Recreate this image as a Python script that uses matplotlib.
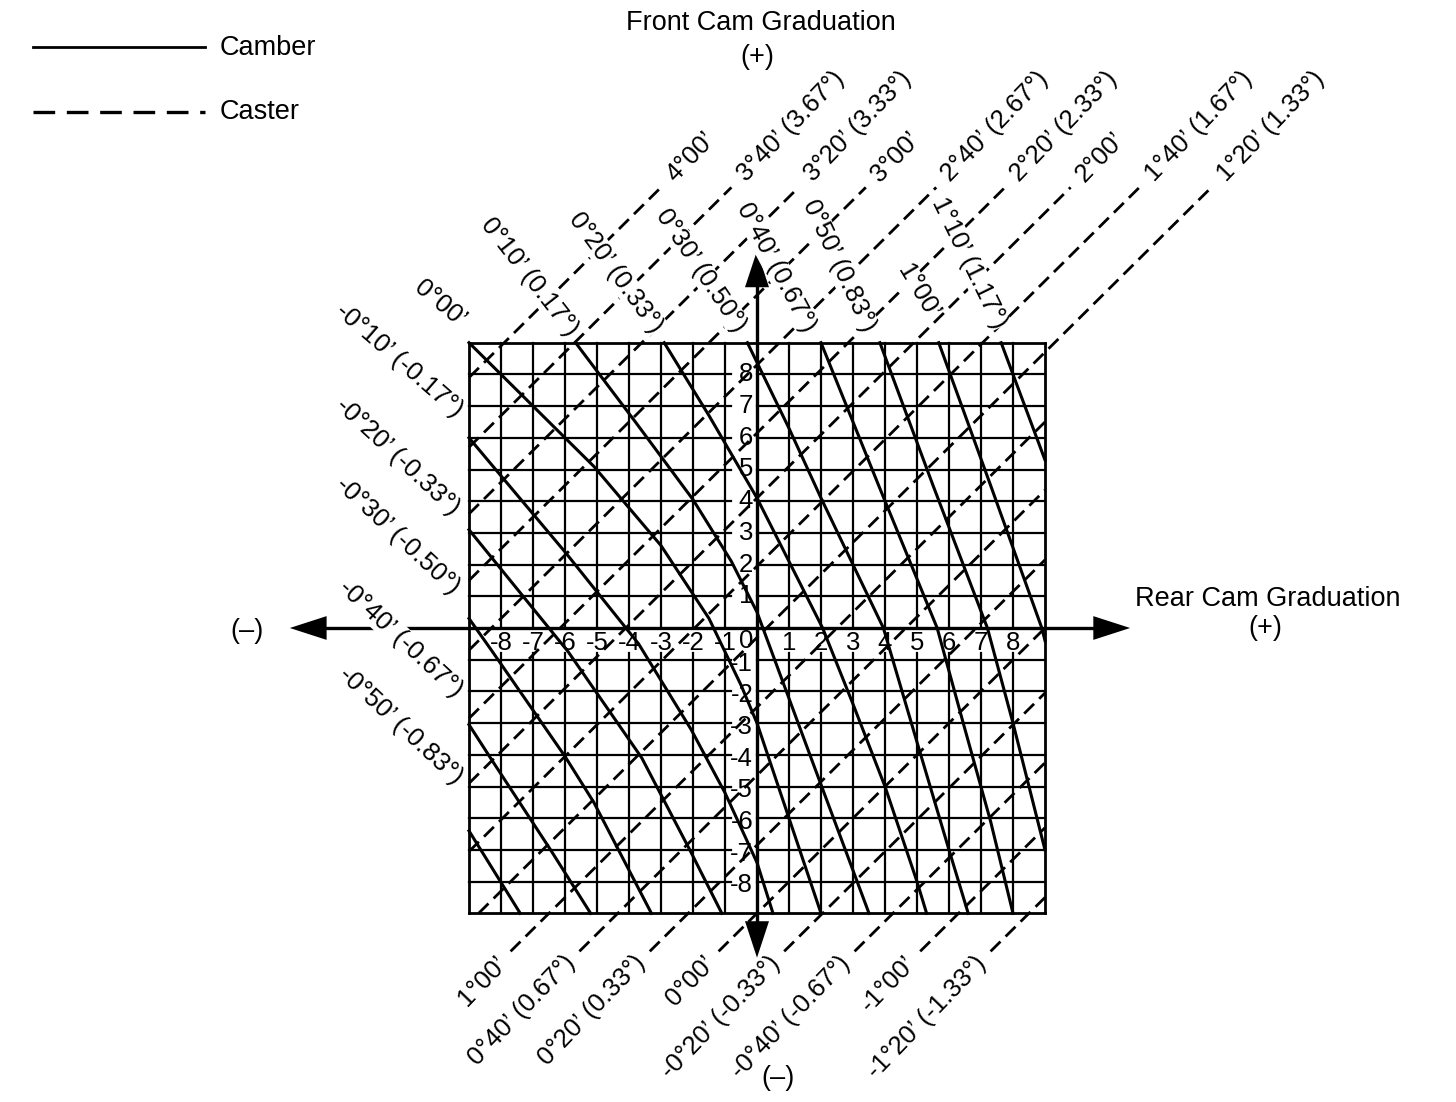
import numpy as np
import matplotlib
matplotlib.use("Agg")
from matplotlib import pyplot as plt

plt.rcParams['font.family'] = ['Liberation Sans', 'DejaVu Sans']

# cam graduations shown along the two axes
tick_values = [-8, -7, -6, -5, -4, -3, -2, -1, 1, 2, 3, 4, 5, 6, 7, 8]

# caster lines (dashed): straight lines y = x + c, c
caster_labels = ["4°00’", "3°40’ (3.67°)", "3°20’ (3.33°)", "3°00’", "2°40’ (2.67°)",
                 "2°20’ (2.33°)", "2°00’", "1°40’ (1.67°)", "1°20’ (1.33°)",
                 "1°00’", "0°40’ (0.67°)", "0°20’ (0.33°)", "0°00’",
                 "-0°20’ (-0.33°)", "-0°40’ (-0.67°)", "-1°00’", "-1°20’ (-1.33°)"]
caster_offsets = [16.9, 14.7, 12.6, 10.5, 8.3, 6.15, 4.1, 1.95, -0.3,
                  -2.5, -4.65, -6.85, -9.0, -11.05, -13.25, -15.3, -17.5]
caster_label_top = [True] * 9 + [False] * 8

# camber lines (solid): points (rear cam, front cam)
camber_labels = ["0°00’", "-0°10’ (-0.17°)", "-0°20’ (-0.33°)", "-0°30’ (-0.50°)",
                 "-0°40’ (-0.67°)", "-0°50’ (-0.83°)",
                 "0°10’ (0.17°)", "0°20’ (0.33°)", "0°30’ (0.50°)", "0°40’ (0.67°)",
                 "0°50’ (0.83°)", "1°00’", "1°10’ (1.17°)"]
camber_x = [[-9, -7, -5.1, -3, -1.5, -0.5, 0, 1, 2.0],
            [-9, -6, -3.7, -2.06, -1, 0, 0.5],
            [-9, -5.9, -3.6, -2.1, -1.1],
            [-9, -8.3, -6, -5.1, -3.3],
            [-9, -8.2, -6.45, -5.2],
            [-9, -7.4],
            [-5.67, -3.8, -2, -0.8, 0, 1.8, 3.5],
            [-2.9, -1.5, 0, 1, 2.05, 3.0, 4, 5, 5.3],
            [-0.3, 1, 2, 3.95, 5.0, 6, 6.6],
            [2.0, 3.8, 5.63, 6.5, 7.3, 8.0],
            [3.84, 5.5, 7.2, 8.0, 9.0],
            [5.68, 7.3, 8.9, 9.0],
            [7.63, 9.0]]
camber_y = [[9, 7, 5.1, 2.6, 0.3, -1.8, -3.0, -6, -9],
            [6.0, 2.4, -0.5, -3.2, -5.2, -7.4, -9],
            [3.1, -0.75, -4.1, -7, -9],
            [0.3, -0.7, -4.05, -5.5, -9],
            [-3.05, -4.3, -7, -9],
            [-6.4, -9],
            [9, 6.5, 4.05, 2.1, 0.5, -4.4, -9],
            [9, 6.7, 4.1, 2.1, 0, -2.4, -5, -8, -9],
            [9, 6.3, 4.1, 0, -3.6, -7, -9],
            [9, 4.5, 0, -3.2, -6.1, -9],
            [9, 4.5, 0, -3.0, -7.0],
            [9, 4.5, 0, -0.4],
            [9, 5.3]]
# where each camber label ends, and its slant
camber_label_xy = [(-9.2, 9.65), (-9.3, 6.8), (-9.4, 3.7), (-9.4, 1.2), (-9.3, -2.05),
                   (-9.3, -4.8), (-5.75, 9.3), (-3.1, 9.4), (-0.5, 9.4), (1.65, 9.4),
                   (3.5, 9.4), (5.5, 9.8), (7.6, 9.5)]
camber_label_rot = [-40, -41, -43, -43, -43, -43, -52, -54, -56, -62, -65, -59, -64]

fig = plt.figure(figsize=(14.56, 11.02), dpi=100)
ax = fig.add_axes([0, 0, 1, 1])
ax.set_xlim(-757 / 32.0, (1456 - 757) / 32.0)
ax.set_ylim(-(1102 - 628) / 31.7, 628 / 31.7)
ax.axis('off')

fs_lab = 18.5
fs_big = 19.5
lw_grid = 1.6
# grid, leaving room for the graduation numbers next to the axes
for k in range(-9, 10):
    if k in (-9, 9):
        ax.plot([-9, 9], [k, k], color='black', lw=lw_grid + 0.4, zorder=2)
        ax.plot([k, k], [-9, 9], color='black', lw=lw_grid + 0.4, zorder=2)
        continue
    if k == 0:
        continue
    ax.plot([-9, -0.8], [k, k], color='black', lw=lw_grid, zorder=2)
    ax.plot([0, 9], [k, k], color='black', lw=lw_grid, zorder=2)
    ax.plot([k, k], [0, 9], color='black', lw=lw_grid, zorder=2)
    ax.plot([k, k], [-9, -0.8], color='black', lw=lw_grid, zorder=2)

# axes with arrows
ax.plot([-13.8, 10.9], [0, 0], color='black', lw=2.4, zorder=3)
ax.plot([0, 0], [-9.6, 11.0], color='black', lw=2.4, zorder=3)
hw, hl = 0.75, 1.15
ax.arrow(10.5, 0, 1.16, 0, head_width=hw, head_length=hl, length_includes_head=True,
         color='black', lw=0, zorder=3)
ax.arrow(-13.5, 0, -1.1, 0, head_width=hw, head_length=hl, length_includes_head=True,
         color='black', lw=0, zorder=3)
ax.arrow(0, 10.7, 0, 1.2, head_width=hw, head_length=hl, length_includes_head=True,
         color='black', lw=0, zorder=3)
ax.arrow(0, -9.2, 0, -1.2, head_width=hw, head_length=hl, length_includes_head=True,
         color='black', lw=0, zorder=3)

# caster lines
for lab, c, top in zip(caster_labels, caster_offsets, caster_label_top):
    x0 = max(-9, -9 - c)
    x1 = min(9, 9 - c)
    if top:
        x1 = 13.9 - c
    else:
        x0 = -10.2 - c
    ax.plot([x0, x1], [x0 + c, x1 + c], color='black', lw=2.0,
            linestyle=(0, (5, 2.6)), zorder=4)
    if top:
        ax.text(14.2 - c, 14.2, lab, rotation=46, rotation_mode='anchor',
                ha='left', va='center', fontsize=fs_lab, zorder=6)
    else:
        ax.text(-10.45 - c, -10.45, lab, rotation=46, rotation_mode='anchor',
                ha='right', va='center', fontsize=fs_lab, zorder=6)

# camber lines
for xs, ys in zip(camber_x, camber_y):
    ax.plot(xs, ys, color='black', lw=2.2, zorder=4)
for lab, (tx, ty), rot in zip(camber_labels, camber_label_xy, camber_label_rot):
    ax.text(tx, ty, lab, rotation=rot, rotation_mode='anchor', ha='right',
            va='center', fontsize=fs_lab, zorder=6,
            bbox=dict(facecolor='white', edgecolor='none', pad=0.3))

# graduation numbers
for v in tick_values:
    ax.text(v, -0.47, str(v), ha='center', va='center', fontsize=fs_lab, zorder=3.5)
    yv = v if v > 0 else v - 0.12
    ax.text(-0.12, yv, str(v), ha='right', va='center', fontsize=fs_lab, zorder=3.5)
ax.text(-0.1, -0.42, "0", ha='right', va='center', fontsize=fs_lab, zorder=3.5)

# titles
ax.text(0.12, 19.1, "Front Cam Graduation", ha='center', va='center', fontsize=fs_big)
ax.text(0.0, 18.0, "(+)", ha='center', va='center', fontsize=fs_big)
ax.text(15.95, 0.9, "Rear Cam Graduation", ha='center', va='center', fontsize=fs_big)
ax.text(15.9, 0.0, "(+)", ha='center', va='center', fontsize=fs_big)
ax.text(-15.95, -0.1, "(–)", ha='center', va='center', fontsize=fs_big)
ax.text(0.65, -14.2, "(–)", ha='center', va='center', fontsize=fs_big)

# legend
ax.plot([(33 - 757) / 32.0, (205 - 757) / 32.0], [(628 - 47) / 31.7] * 2,
        color='black', lw=2.0)
ax.plot([(33 - 757) / 32.0, (205 - 757) / 32.0], [(628 - 112) / 31.7] * 2,
        color='black', lw=2.4, linestyle=(0, (6.5, 3.5)))
ax.text((220 - 757) / 32.0, (628 - 48) / 31.7, "Camber", ha='left', va='center',
        fontsize=fs_big)
ax.text((220 - 757) / 32.0, (628 - 112) / 31.7, "Caster", ha='left', va='center',
        fontsize=fs_big)

fig.savefig("out.png", dpi=100, facecolor='white')
